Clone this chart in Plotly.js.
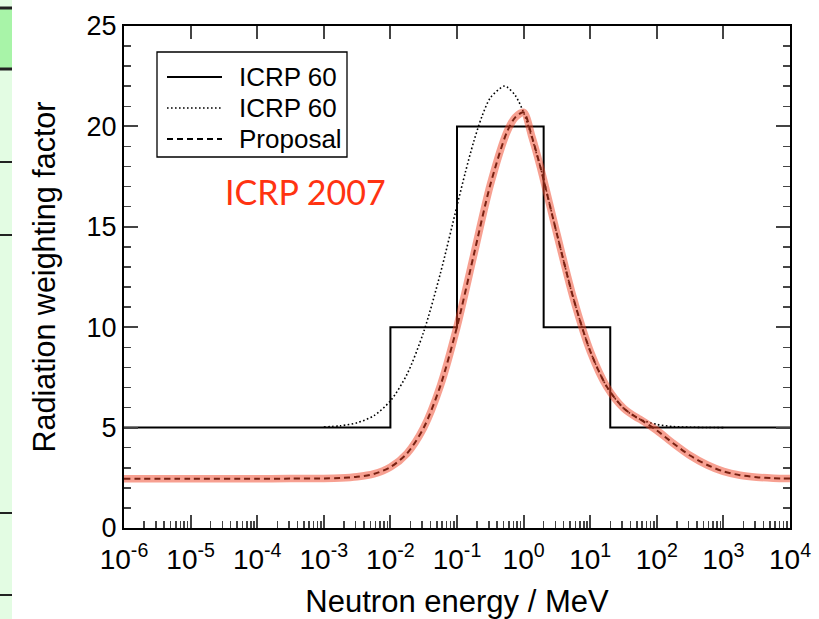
<!DOCTYPE html>
<html>
<head>
<meta charset="utf-8">
<script src="https://cdn.plot.ly/plotly-3.0.1.min.js"></script>
<style>html,body{margin:0;padding:0;background:#fff;}#chart{width:819px;height:619px;}</style>
</head>
<body>
<div id="chart"></div>
<script>
// ICRP 60 step function (MeV, wR)
const icrp60StepEnergy = [1e-6, 0.01, 0.1, 2, 20, 1e4];
const icrp60StepWR = [5, 10, 20, 10, 5, 5];

// ICRP 60 continuous (dotted)
const icrp60SmoothEnergy = [1e-3, 1.778e-3, 3.162e-3, 5.623e-3, 1e-2, 1.778e-2, 3.162e-2, 5.623e-2, 0.1, 0.1334, 0.1778, 0.2371, 0.3162, 0.5, 0.5623, 0.7499, 1, 1.778, 3.162, 5.623, 10, 17.78, 31.62, 56.23, 100, 177.8, 316.2, 562.3, 1000];
const icrp60SmoothWR = [5.03, 5.09, 5.24, 5.59, 6.33, 7.66, 9.77, 12.67, 16.04, 17.71, 19.23, 20.50, 21.42, 22.0, 21.96, 21.54, 20.69, 18.0, 14.64, 11.41, 8.81, 7.03, 5.97, 5.41, 5.16, 5.05, 5.02, 5.005, 5.0];

// Proposal / ICRP 2007
const proposalEnergy = [1e-6, 1e-5, 1e-4, 3.162e-4, 1e-3, 1.778e-3, 3.162e-3, 5.623e-3, 1e-2, 1.778e-2, 3.162e-2, 5.623e-2, 0.1, 0.1778, 0.3162, 0.5623, 0.7499, 1, 1.334, 1.778, 3.162, 5.623, 10, 17.78, 31.62, 50, 56.23, 100, 177.8, 316.2, 562.3, 1000, 1778, 3162, 5623, 10000];
const proposalWR = [2.45, 2.45, 2.45, 2.46, 2.47, 2.49, 2.55, 2.69, 3.031, 3.715, 4.992, 7.076, 10.02, 13.57, 17.09, 19.72, 20.45, 20.7, 19.48, 18.0, 14.64, 11.41, 8.81, 7.03, 5.97, 5.5, 5.41, 4.86, 4.21, 3.61, 3.15, 2.82, 2.63, 2.53, 2.48, 2.46];

const xTickVals = [1e-6, 1e-5, 1e-4, 1e-3, 1e-2, 1e-1, 1e0, 1e1, 1e2, 1e3, 1e4];
const xTickText = ['10<sup>-6</sup>', '10<sup>-5</sup>', '10<sup>-4</sup>', '10<sup>-3</sup>', '10<sup>-2</sup>', '10<sup>-1</sup>', '10<sup>0</sup>', '10<sup>1</sup>', '10<sup>2</sup>', '10<sup>3</sup>', '10<sup>4</sup>'];
const yTickVals = [0, 5, 10, 15, 20, 25];

const legendLabels = ['ICRP 60', 'ICRP 60', 'Proposal'];
const legendDashes = ['solid', '1.6px,2.4px', '6px,4px'];
const legendWidths = [2, 1.6, 2];

const minorX = [];
for (let d = -6; d < 4; d++) {
  for (let m = 2; m <= 9; m++) minorX.push(m * Math.pow(10, d));
}

const FONT = 'Liberation Sans, Arial, sans-serif';

const traces = [
  {x: icrp60StepEnergy, y: icrp60StepWR, mode: 'lines', name: 'ICRP 60', showlegend: false,
   line: {color: '#000', width: 2, shape: 'hv'}},
  {x: icrp60SmoothEnergy, y: icrp60SmoothWR, mode: 'lines', name: 'ICRP 60', showlegend: false,
   line: {color: '#000', width: 1.6, dash: '1.6px,2.4px', shape: 'spline', smoothing: 0.8}},
  {x: proposalEnergy, y: proposalWR, mode: 'lines', name: 'Proposal', showlegend: false,
   line: {color: '#000', width: 2, dash: '6px,4px', shape: 'spline', smoothing: 0.8}},
  {x: proposalEnergy, y: proposalWR, mode: 'lines', name: 'ICRP 2007', showlegend: false, hoverinfo: 'skip',
   line: {color: 'rgba(240,65,35,0.5)', width: 7.5, shape: 'spline', smoothing: 0.8}},
  {x: [1e-6], y: [0], xaxis: 'x2', mode: 'lines', showlegend: false, hoverinfo: 'skip', line: {width: 0}}
];

function px2x(p) { return (p - 124) / 666; }
function py2y(p) { return (528 - p) / 502; }
const shapes = [
  {type: 'rect', xref: 'paper', yref: 'paper', x0: px2x(0), x1: px2x(12), y0: py2y(619), y1: py2y(0), fillcolor: '#e3fce3', line: {width: 0}, layer: 'below'},
  {type: 'rect', xref: 'paper', yref: 'paper', x0: px2x(0), x1: px2x(12), y0: py2y(69), y1: py2y(8), fillcolor: '#a8f4a8', line: {width: 0}, layer: 'below'}
];
[[8, 3], [69, 3], [162, 2], [235, 2], [513, 2], [595, 2]].forEach(function (l) {
  shapes.push({type: 'line', xref: 'paper', yref: 'paper', x0: px2x(0), x1: px2x(12), y0: py2y(l[0]), y1: py2y(l[0]), line: {color: '#222', width: l[1]}, layer: 'below'});
});

// legend box (drawn manually)
shapes.push({type: 'rect', xref: 'paper', yref: 'paper', x0: px2x(157), x1: px2x(347), y0: py2y(157), y1: py2y(52),
             fillcolor: '#fff', line: {color: '#000', width: 1.3}, layer: 'above'});
const legendRows = [77, 108, 139];
const annotations = [];
legendLabels.forEach(function (lab, i) {
  shapes.push({type: 'line', xref: 'paper', yref: 'paper', x0: px2x(167), x1: px2x(222), y0: py2y(legendRows[i]), y1: py2y(legendRows[i]),
               line: {color: '#000', width: legendWidths[i], dash: legendDashes[i]}, layer: 'above'});
  annotations.push({text: lab, xref: 'paper', yref: 'paper', x: px2x(237), y: py2y(legendRows[i]), xanchor: 'left', yanchor: 'middle',
                    showarrow: false, font: {family: FONT, size: 26, color: '#000'}});
});
annotations.push({text: 'ICRP 2007', xref: 'paper', yref: 'paper', x: px2x(305), y: py2y(191), xanchor: 'center', yanchor: 'middle', showarrow: false,
                  font: {family: 'Lato, sans-serif', size: 34, color: '#ff3311'}});

const layout = {
  width: 819, height: 619,
  margin: {l: 124, r: 29, t: 26, b: 91, pad: 0},
  paper_bgcolor: '#fff', plot_bgcolor: '#fff',
  font: {family: FONT, color: '#000'},
  showlegend: false,
  xaxis: {type: 'log', range: [-6, 4], tickvals: xTickVals, ticktext: xTickText, ticks: 'inside', ticklen: 13, tickwidth: 2,
          showline: true, linewidth: 2, linecolor: '#000', mirror: false, showgrid: false, zeroline: false,
          tickfont: {family: FONT, size: 28, color: '#000'}, ticklabelstandoff: 5,
          minor: {tickvals: minorX, ticks: 'inside', ticklen: 7, tickwidth: 1.5, showgrid: false},
          title: {text: 'Neutron energy / MeV', font: {family: FONT, size: 31, color: '#000'}, standoff: 19}},
  xaxis2: {type: 'log', range: [-6, 4], overlaying: 'x', side: 'top', tickvals: xTickVals, ticks: 'inside', ticklen: 13, tickwidth: 2,
           showticklabels: false, showline: true, linewidth: 2, linecolor: '#000', showgrid: false, zeroline: false},
  yaxis: {range: [0, 25], tickvals: yTickVals, ticks: 'inside', ticklen: 14, tickwidth: 2,
          showline: true, linewidth: 2, linecolor: '#000', mirror: 'ticks', showgrid: false, zeroline: false,
          tickfont: {family: FONT, size: 27, color: '#000'},
          minor: {dtick: 1, ticks: 'inside', ticklen: 7, tickwidth: 1.5, showgrid: false},
          title: {text: 'Radiation weighting factor', font: {family: FONT, size: 30.5, color: '#000'}, standoff: 22}},
  shapes: shapes,
  annotations: annotations
};

Plotly.newPlot('chart', traces, layout, {staticPlot: true, displayModeBar: false});
</script>
</body>
</html>
